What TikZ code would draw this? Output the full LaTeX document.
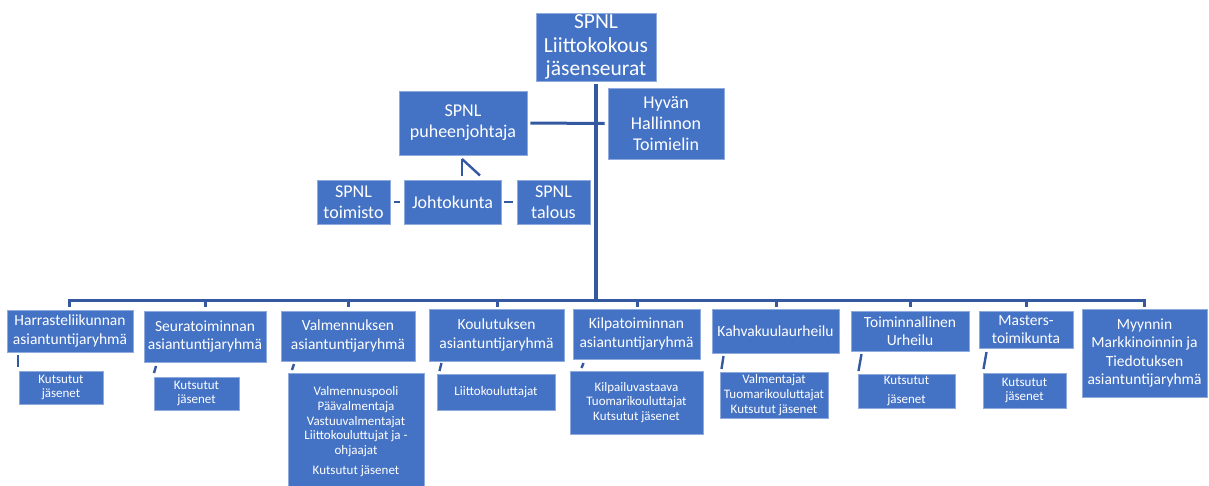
\documentclass[tikz,border=0pt]{standalone}
\usepackage{fontspec}
\setmainfont{Carlito}
\definecolor{boxblue}{HTML}{4472C4}
\definecolor{linkblue}{HTML}{3459A0}
\begin{document}
\begin{tikzpicture}[x=1pt,y=-1pt,
  box/.style={rectangle, fill=boxblue, draw=boxblue!60!white, line width=0.6pt, text=white, align=center, inner sep=0pt},
  big/.style={font=\fontsize{21.5}{23.5}\selectfont},
  mid/.style={font=\fontsize{18}{21}\selectfont},
  grp/.style={font=\fontsize{15.5}{18.5}\selectfont},
  small/.style={font=\fontsize{13}{14.8}\selectfont},
  link/.style={draw=linkblue, line width=3pt},
  thin link/.style={draw=linkblue, line width=2.4pt}]
\useasboundingbox (0,0) rectangle (1209,485);
\begin{scope}
\clip (0,0) rectangle (1209,485);
% top
\node[box,big,minimum width=120,minimum height=68] (top) at (596,47) {SPNL\\Liittokokous\\jäsenseurat};
\node[box,mid,minimum width=128,minimum height=64] (puh) at (463,123) {SPNL\\puheenjohtaja};
\node[box,mid,minimum width=116,minimum height=71] (hyv) at (666,123.5) {Hyvän\\Hallinnon\\Toimielin};
\node[box,mid,minimum width=97,minimum height=44] (joh) at (452.5,202) {Johtokunta};
\node[box,mid,minimum width=73,minimum height=44] (toim) at (353.5,202) {SPNL\\toimisto};
\node[box,mid,minimum width=73,minimum height=44] (tal) at (553.5,202) {SPNL\\talous};
% level 2
\node[box,grp,minimum width=126,minimum height=42] (harr) at (70,331) {Harrasteliikunnan\\asiantuntijaryhmä};
\node[box,grp,minimum width=122,minimum height=51] (seura) at (205,336.5) {Seuratoiminnan\\asiantuntijaryhmä};
\node[box,grp,minimum width=134,minimum height=50] (valm) at (348,336) {Valmennuksen\\asiantuntijaryhmä};
\node[box,grp,minimum width=135,minimum height=52] (koul) at (496.5,335) {Koulutuksen\\asiantuntijaryhmä};
\node[box,grp,minimum width=127,minimum height=50] (kilp) at (636.5,334) {Kilpatoiminnan\\asiantuntijaryhmä};
\node[box,grp,minimum width=127,minimum height=44] (kahv) at (775.5,331) {Kahvakuulaurheilu};
\node[box,grp,minimum width=118,minimum height=40] (tmi) at (910,331) {Toiminnallinen\\Urheilu};
\node[box,grp,minimum width=94,minimum height=37] (mast) at (1026,329.5) {Masters-\\toimikunta};
\node[box,grp,minimum width=125,minimum height=88] (myyn) at (1144.5,353) {Myynnin\\Markkinoinnin ja\\Tiedotuksen\\asiantuntijaryhmä};
% level 3
\node[box,small,minimum width=84,minimum height=33] (harrS) at (61,387.5) {Kutsutut\\jäsenet};
\node[box,small,minimum width=85,minimum height=33] (seuraS) at (196.5,393.5) {Kutsutut\\jäsenet};
\node[box,small,minimum width=136,minimum height=117] (valmS) at (356,431.5) {Valmennuspooli\\Päävalmentaja\\Vastuuvalmentajat\\Liittokouluttujat ja -\\ohjaajat\\[5pt]Kutsutut jäsenet};
\node[box,small,minimum width=118,minimum height=36] (koulS) at (496,392) {Liittokouluttajat};
\node[box,small,minimum width=133,minimum height=63] (kilpS) at (636.5,402.5) {Kilpailuvastaava\\Tuomarikouluttajat\\Kutsutut jäsenet};
\node[box,small,minimum width=108,minimum height=46] (kahvS) at (774,395) {Valmentajat\\Tuomarikouluttajat\\Kutsutut jäsenet};
\node[box,small,minimum width=97,minimum height=34,font=\fontsize{13}{19.5}\selectfont] (tmiS) at (906.5,391) {Kutsutut\\jäsenet};
\node[box,small,minimum width=83,minimum height=35] (mastS) at (1024.5,390.5) {Kutsutut\\jäsenet};
\end{scope}
% connectors top
\coordinate (trTop) at (596,84);
\coordinate (trBot) at (596,300);
\draw[link,line width=4pt] (trTop) -- (trBot);
\draw[link] ([xshift=3pt]puh.east) -- ([xshift=-3pt]hyv.east -| hyv.west);
\coordinate (jv1) at (462,159);
\coordinate (jv2) at (462,175.5);
\coordinate (jd2) at (480,175.5);
\draw[thin link,line cap=butt] (jv1) -- (jv2);
\draw[thin link] (jv1) -- (jd2);
\coordinate (c1a) at (394,202); \coordinate (c1b) at (400,202);
\coordinate (c2a) at (504,202); \coordinate (c2b) at (513,202);
\draw[thin link] (c1a) -- (c1b);
\draw[thin link] (c2a) -- (c2b);
% bar
\coordinate (barL) at (69,300);
\coordinate (barR) at (1144,300);
\draw[link,line cap=rect] (barL) -- (barR);
\foreach \n/\x in {harr/69,seura/205,valm/348,koul/497,kilp/637,kahv/776,tmi/910,mast/1026,myyn/1144}{
  \draw[link] (\x,300) -- (\x,307);
}
% sub ticks
\foreach \xa/\ya/\xb/\yb in {18/355/18/367, 156/366/154/373, 294/364/292/370, 441.5/363/439.5/371, 583.5/363/581.5/368, 723.5/356/721.5/369, 861.5/354/858.5/371, 986.5/352/983.5/369}{
  \draw[thin link] (\xa,\ya) -- (\xb,\yb);
}
\end{tikzpicture}
\end{document}
